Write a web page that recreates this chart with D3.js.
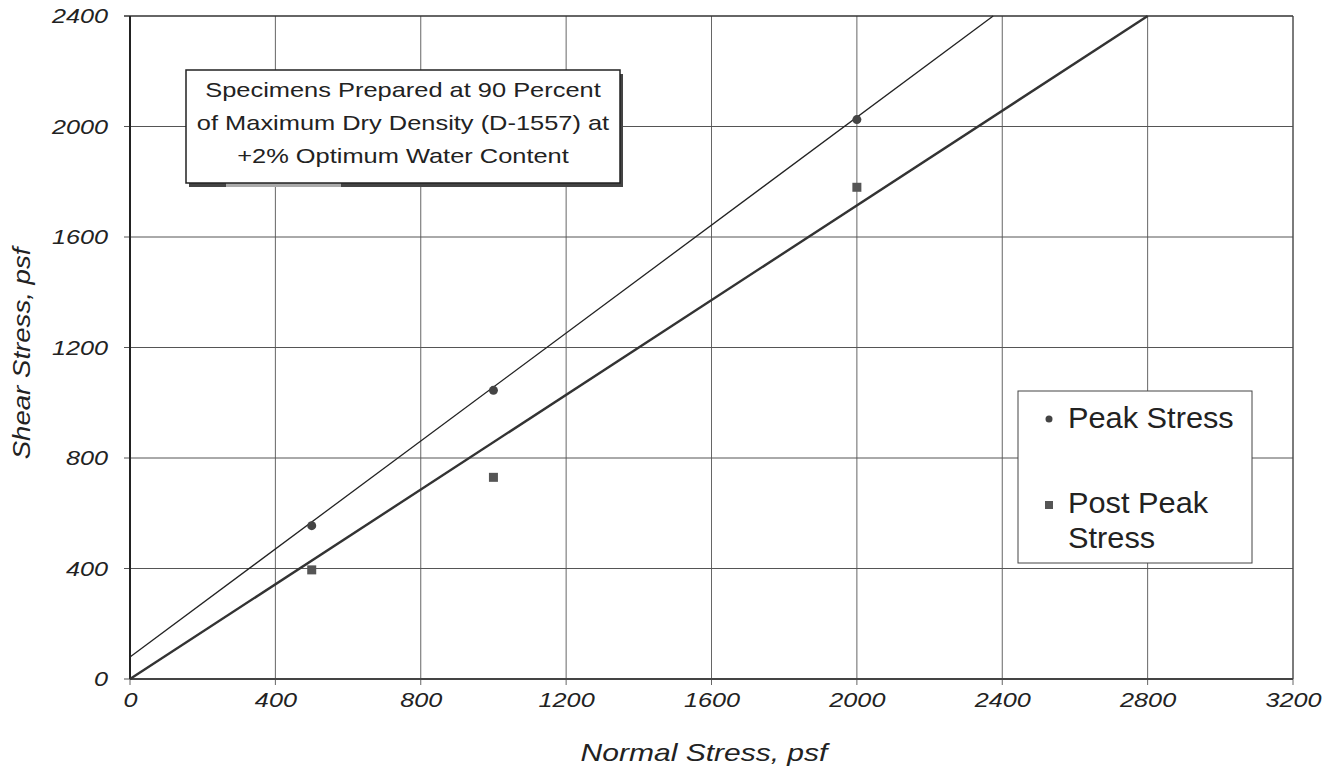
<!DOCTYPE html>
<html>
<head>
<meta charset="utf-8">
<script src="https://cdn.jsdelivr.net/npm/d3@7"></script>
<style>
  body { margin: 0; background: #fff; }
  svg { font-family: "Liberation Sans", Arial, sans-serif; }
</style>
</head>
<body>
<svg id="chart"></svg>
<script>
// data
const xTicks = [0, 400, 800, 1200, 1600, 2000, 2400, 2800, 3200];
const yTicks = [0, 400, 800, 1200, 1600, 2000, 2400];
const peakNormal = [500, 1000, 2000];
const peakShear = [555, 1045, 2025];
const postNormal = [500, 1000, 2000];
const postShear = [395, 730, 1780];
// fitted envelopes: [normal, shear] end points
const peakLine = [[0, 80], [2375, 2400]];
const postLine = [[0, 0], [2800, 2400]];
const noteLines = ['Specimens Prepared at 90 Percent', 'of Maximum Dry Density (D-1557) at', '+2% Optimum Water Content'];

const width = 1329;
const height = 777;
const margin = { left: 130, right: 36, top: 16, bottom: 98 };

const svg = d3.select('#chart')
  .attr('width', width)
  .attr('height', height);

const x = d3.scaleLinear().domain([0, 3200]).range([margin.left, width - margin.right]);
const y = d3.scaleLinear().domain([0, 2400]).range([height - margin.bottom, margin.top]);

// the scanned lettering is wider than the font, so stretch it
function stretch(sel, factor) {
  sel.each(function () {
    const len = this.getComputedTextLength();
    d3.select(this)
      .attr('textLength', len * factor)
      .attr('lengthAdjust', 'spacingAndGlyphs');
  });
}

// gridlines
svg.append('g')
  .selectAll('line')
  .data(xTicks)
  .enter()
  .append('line')
  .attr('x1', d => x(d)).attr('x2', d => x(d))
  .attr('y1', y(2400)).attr('y2', y(0) + 6)
  .attr('stroke', '#666')
  .attr('stroke-width', 1);

svg.append('g')
  .selectAll('line')
  .data(yTicks)
  .enter()
  .append('line')
  .attr('x1', x(0) - 6).attr('x2', x(3200))
  .attr('y1', d => y(d)).attr('y2', d => y(d))
  .attr('stroke', d => d === 2400 ? '#333' : '#555')
  .attr('stroke-width', d => d === 2400 ? 1.5 : 1);

// axis frame lines
svg.append('line')
  .attr('x1', x(0)).attr('x2', x(0))
  .attr('y1', y(2400)).attr('y2', y(0))
  .attr('stroke', '#222').attr('stroke-width', 2);
svg.append('line')
  .attr('x1', x(0)).attr('x2', x(3200))
  .attr('y1', y(0)).attr('y2', y(0))
  .attr('stroke', '#444').attr('stroke-width', 2);
svg.append('line')
  .attr('x1', x(3200)).attr('x2', x(3200))
  .attr('y1', y(2400)).attr('y2', y(0))
  .attr('stroke', '#444').attr('stroke-width', 1);

// tick labels
const xAxis = d3.axisBottom(x).tickValues(xTicks).tickSize(0).tickPadding(13).tickFormat(d3.format('d'));
const gx = svg.append('g')
  .attr('transform', `translate(0, ${y(0)})`)
  .call(xAxis);
gx.select('.domain').remove();
gx.selectAll('text')
  .attr('font-size', 21).attr('font-style', 'italic').attr('fill', '#222')
  .attr('font-family', '"Liberation Sans", Arial, sans-serif')
  .call(stretch, 1.2);

const yAxis = d3.axisLeft(y).tickValues(yTicks).tickSize(0).tickPadding(22).tickFormat(d3.format('d'));
const gy = svg.append('g')
  .attr('transform', `translate(${x(0)}, 0)`)
  .call(yAxis);
gy.select('.domain').remove();
gy.selectAll('text')
  .attr('font-size', 21).attr('font-style', 'italic').attr('fill', '#222')
  .attr('font-family', '"Liberation Sans", Arial, sans-serif')
  .call(stretch, 1.2);

// axis titles
svg.append('text')
  .attr('x', 704)
  .attr('y', 761)
  .attr('text-anchor', 'middle')
  .attr('font-size', 24).attr('font-style', 'italic').attr('fill', '#222')
  .text('Normal Stress, psf')
  .call(stretch, 1.25);

svg.append('text')
  .attr('transform', `translate(30, ${(y(0) + y(2400)) / 2 + 6}) rotate(-90)`)
  .attr('text-anchor', 'middle')
  .attr('font-size', 23).attr('font-style', 'italic').attr('fill', '#222')
  .text('Shear Stress, psf')
  .call(stretch, 1.2);

// envelope lines
const line = d3.line().x(d => x(d[0])).y(d => y(d[1]));
svg.append('path')
  .attr('d', line(peakLine))
  .attr('fill', 'none').attr('stroke', '#222').attr('stroke-width', 1.3);
svg.append('path')
  .attr('d', line(postLine))
  .attr('fill', 'none').attr('stroke', '#333').attr('stroke-width', 2.4);

// markers
svg.append('g')
  .selectAll('circle')
  .data(d3.zip(peakNormal, peakShear))
  .enter()
  .append('circle')
  .attr('cx', d => x(d[0])).attr('cy', d => y(d[1]))
  .attr('r', 4.5)
  .attr('fill', '#444');

svg.append('g')
  .selectAll('rect')
  .data(d3.zip(postNormal, postShear))
  .enter()
  .append('rect')
  .attr('x', d => x(d[0]) - 4.5).attr('y', d => y(d[1]) - 4.5)
  .attr('width', 9).attr('height', 9)
  .attr('fill', '#555');

// note box
const note = svg.append('g');
const noteX = 186, noteY = 70, noteW = 434, noteH = 113;
note.append('rect')
  .attr('x', noteX + 3).attr('y', noteY + 4).attr('width', noteW).attr('height', noteH)
  .attr('fill', '#444');
note.append('rect')
  .attr('x', noteX + 40).attr('y', noteY + noteH).attr('width', 115).attr('height', 4)
  .attr('fill', '#aaa');
note.append('rect')
  .attr('x', noteX).attr('y', noteY).attr('width', noteW).attr('height', noteH)
  .attr('fill', '#fff').attr('stroke', '#222').attr('stroke-width', 1.5);
note.selectAll('text')
  .data(noteLines)
  .enter()
  .append('text')
  .attr('x', noteX + noteW / 2)
  .attr('y', (d, i) => 97 + i * 33)
  .attr('text-anchor', 'middle')
  .attr('font-size', 21).attr('fill', '#222')
  .text(d => d)
  .call(stretch, 1.21);

// legend
const legend = svg.append('g');
legend.append('rect')
  .attr('x', 1018).attr('y', 391).attr('width', 234).attr('height', 172)
  .attr('fill', '#fff').attr('stroke', '#444').attr('stroke-width', 1);
legend.append('circle')
  .attr('cx', 1049).attr('cy', 419).attr('r', 3.5).attr('fill', '#444');
legend.append('rect')
  .attr('x', 1045).attr('y', 501).attr('width', 8).attr('height', 8)
  .attr('fill', '#555');
legend.selectAll('text')
  .data([['Peak Stress', 428], ['Post Peak', 513], ['Stress', 548]])
  .enter()
  .append('text')
  .attr('x', 1068).attr('y', d => d[1])
  .attr('font-size', 29).attr('fill', '#222')
  .text(d => d[0])
  .call(stretch, 1.06);
</script>
</body>
</html>
